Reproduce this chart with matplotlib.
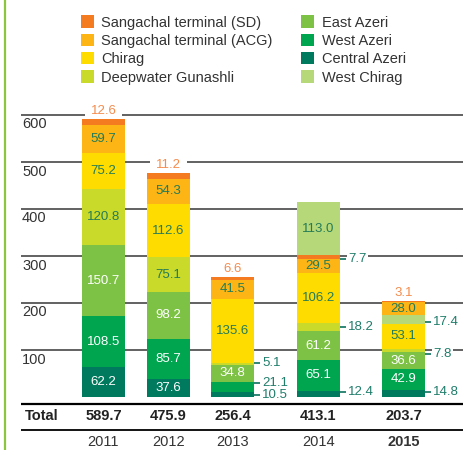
import matplotlib
matplotlib.use('Agg')
import matplotlib.pyplot as plt
from matplotlib.patches import Patch
from matplotlib.lines import Line2D
import matplotlib.transforms as mtransforms

plt.rcParams['font.family'] = ['Liberation Sans', 'DejaVu Sans']

# ---------------- data ----------------
years = ['2011', '2012', '2013', '2014', '2015']
totals = ['589.7', '475.9', '256.4', '413.1', '203.7']
central_azeri = [62.2, 37.6, 10.5, 12.4, 14.8]
west_azeri = [108.5, 85.7, 21.1, 65.1, 42.9]
east_azeri = [150.7, 98.2, 34.8, 61.2, 36.6]
deepwater_gunashli = [120.8, 75.1, 5.1, 18.2, 7.8]
chirag = [75.2, 112.6, 135.6, 106.2, 53.1]
west_chirag = [0, 0, 0, 113.0, 17.4]
sangachal_acg = [59.7, 54.3, 41.5, 29.5, 28.0]
sangachal_sd = [12.6, 11.2, 6.6, 7.7, 3.1]
y_ticks = [100, 200, 300, 400, 500, 600]

series_values = {
    'Sangachal terminal (SD)': sangachal_sd,
    'Sangachal terminal (ACG)': sangachal_acg,
    'Chirag': chirag,
    'Deepwater Gunashli': deepwater_gunashli,
    'East Azeri': east_azeri,
    'West Azeri': west_azeri,
    'Central Azeri': central_azeri,
    'West Chirag': west_chirag,
}

# ---------------- styles / layout ----------------
colors = {
    'Sangachal terminal (SD)': '#F47B20',
    'Sangachal terminal (ACG)': '#FDB515',
    'Chirag': '#FFDC00',
    'Deepwater Gunashli': '#C9DA2A',
    'East Azeri': '#7DC244',
    'West Azeri': '#00A550',
    'Central Azeri': '#007A5E',
    'West Chirag': '#B6D879',
}
white_text = {'East Azeri', 'West Azeri', 'Central Azeri'}
dark_label = '#237B57'
out_label = '#1F7D6A'
top_label = '#F58B4C'

default_order = ['Central Azeri', 'West Azeri', 'East Azeri', 'Deepwater Gunashli',
                 'Chirag', 'West Chirag', 'Sangachal terminal (ACG)',
                 'Sangachal terminal (SD)']
order_2014 = ['Central Azeri', 'West Azeri', 'East Azeri', 'Deepwater Gunashli',
              'Chirag', 'Sangachal terminal (ACG)', 'Sangachal terminal (SD)',
              'West Chirag']
stack_orders = [default_order, default_order, default_order, order_2014, default_order]

# outside labels: (year index, series) -> (vertical nudge px (up +), white backing?)
outside = {
    (2, 'Deepwater Gunashli'): (1, False),
    (2, 'West Azeri'): (4, False),
    (2, 'Central Azeri'): (-0.5, False),
    (3, 'Sangachal terminal (SD)'): (-2, True),
    (3, 'Deepwater Gunashli'): (0, False),
    (3, 'Central Azeri'): (2, False),
    (4, 'West Chirag'): (-3, False),
    (4, 'Deepwater Gunashli'): (-4, True),
    (4, 'Central Azeri'): (1, False),
}

W, H = 464, 450
DPI = 100
x_pos = [103.5, 168.5, 232.5, 318.5, 403.5]   # bar centres (px)
bar_w = 43
zero_px = 396.5
scale = 0.47  # px per unit

fig = plt.figure(figsize=(W / DPI, H / DPI), dpi=DPI)
ax = fig.add_axes([0, 0, 1, 1])
ax.set_xlim(0, W)
ax.set_ylim((zero_px - H) / scale, zero_px / scale)
ax.axis('off')

def px_off(dx, dy):
    # offset in pixels (dy positive = up)
    return mtransforms.offset_copy(ax.transData, fig=fig, x=dx, y=dy, units='dots')

# grid lines + y labels
ax.hlines(y_ticks, 21, W, colors='#555555', linewidth=1.3, zorder=1)
for t in y_ticks:
    ax.text(22, t, str(t), transform=px_off(0, -10), ha='left', va='center',
            fontsize=10.5, color='#333333', zorder=2)

# bars
for i, order in enumerate(stack_orders):
    bottom = 0
    for name in order:
        v = series_values[name][i]
        if v == 0:
            continue
        ax.bar(x_pos[i], v, width=bar_w, bottom=bottom, color=colors[name],
               linewidth=0, zorder=3)
        mid = bottom + v / 2
        top = bottom + v
        lab = f'{v:.1f}'
        if (i, name) in outside:
            dy, backed = outside[(i, name)]
            xe = x_pos[i] + bar_w / 2
            ax.plot([xe, xe + 6], [mid, mid], color=out_label, lw=1.3,
                    transform=px_off(0, dy), zorder=5, solid_capstyle='butt')
            kw = dict(bbox=dict(facecolor='white', edgecolor='none', pad=1.0)) if backed else {}
            ax.text(xe, mid, lab, transform=px_off(8, dy), ha='left', va='center',
                    fontsize=9.5, color=out_label, zorder=2.5, **kw)
        elif name == 'Sangachal terminal (SD)':
            ax.text(x_pos[i], top, lab, transform=px_off(0, 8), ha='center',
                    va='center', fontsize=9.5, color=top_label, zorder=2.5,
                    bbox=dict(facecolor='white', edgecolor='none', pad=4))
        else:
            ax.text(x_pos[i], mid, lab, ha='center', va='center', fontsize=9.5,
                    color='white' if name in white_text else dark_label, zorder=4)
        bottom = top

# totals row
ax.hlines([-7.5 / scale], 21, W, colors='black', linewidth=1.6, zorder=2)
ax.hlines([-33 / scale], 21, W, colors='black', linewidth=1.3, zorder=2)
ax.text(25, -20 / scale, 'Total', ha='left', va='center', fontsize=10.5,
        fontweight='bold', color='#222222')
for i, tot in enumerate(totals):
    ax.text(x_pos[i], -20 / scale, tot, ha='center', va='center', fontsize=10.5,
            fontweight='bold', color='#222222')
for i, yr in enumerate(years):
    ax.text(x_pos[i], -45.5 / scale, yr, ha='center', va='center', fontsize=10.5,
            fontweight='bold' if i == len(years) - 1 else 'normal', color='#333333')

# left green rule
fig.add_artist(Line2D([4.5 / W, 4.5 / W], [0, 1], transform=fig.transFigure,
                      color='#8CC63F', linewidth=1.6))

# legend
legend_order = ['Sangachal terminal (SD)', 'Sangachal terminal (ACG)', 'Chirag',
                'Deepwater Gunashli', 'East Azeri', 'West Azeri', 'Central Azeri',
                'West Chirag']
handles = [Patch(facecolor=colors[n], edgecolor='none', label=n) for n in legend_order]
fig.legend(handles=handles, ncol=2, loc='upper left',
           bbox_to_anchor=(81 / W, 1 - 15.5 / H), frameon=False, fontsize=10.5,
           handlelength=0.9, handleheight=0.9, handletextpad=0.5,
           labelspacing=0.29, columnspacing=1.95, borderpad=0, borderaxespad=0,
           labelcolor='#333333')

fig.savefig('out.png', dpi=DPI)
